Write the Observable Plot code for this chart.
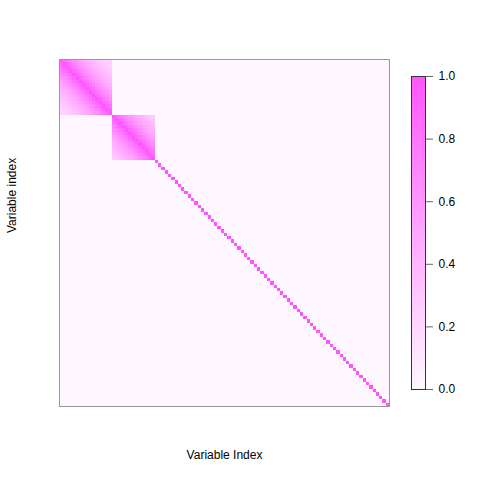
<!DOCTYPE html>
<html>
<head>
<meta charset="utf-8">
<script src="https://cdn.jsdelivr.net/npm/d3@7"></script>
<script src="https://cdn.jsdelivr.net/npm/@observablehq/plot@0.6"></script>
<style>
  html, body { margin: 0; padding: 0; background: #fff; }
  #wrap { position: relative; width: 480px; height: 480px; font-family: "Liberation Sans", Arial, sans-serif; }
  #wrap svg { position: absolute; top: 0; background: transparent; }
</style>
</head>
<body>
<div id="wrap"></div>
<script>
// Number of variables
const nVars = 100;
// Correlated blocks (start index, size) and their lag correlations
const blockStarts = [0, 16];
const blockSizes = [16, 13];
const block1Lag = [1.00, 0.90, 0.81, 0.73, 0.66, 0.59, 0.53, 0.48, 0.43, 0.39, 0.35, 0.31, 0.28, 0.25, 0.23, 0.21];
const block2Lag = [1.00, 0.90, 0.81, 0.73, 0.66, 0.59, 0.53, 0.48, 0.43, 0.39, 0.35, 0.31, 0.28];
const blockLags = [block1Lag, block2Lag];
// Colour bar ticks
const legendTicks = [0.0, 0.2, 0.4, 0.6, 0.8, 1.0];
const colorLow = "#fff7ff";
const colorHigh = "#ff55ff";

// Build the correlation matrix cells
const cells = [];
for (let i = 0; i < nVars; i++) {
  for (let j = 0; j < nVars; j++) {
    let v = i === j ? 1 : 0;
    blockStarts.forEach((s, b) => {
      const n = blockSizes[b];
      if (i >= s && i < s + n && j >= s && j < s + n) v = blockLags[b][Math.abs(i - j)];
    });
    cells.push({i, j, v});
  }
}
const idx = d3.range(nVars);
const colorScale = {type: "linear", domain: [0, 1], range: [colorLow, colorHigh], interpolate: "rgb"};

const main = Plot.plot({
  width: 480, height: 480,
  marginLeft: 59, marginRight: 91, marginTop: 59, marginBottom: 74,
  style: {fontFamily: "Liberation Sans, Arial, sans-serif", fontSize: "12px", background: "transparent"},
  x: {type: "band", domain: idx, padding: 0, round: false, axis: null},
  y: {type: "band", domain: idx, padding: 0, round: false, axis: null},
  color: colorScale,
  marks: [
    Plot.cell(cells, {x: "j", y: "i", fill: "v", inset: 0, shapeRendering: "crispEdges"}),
    Plot.frame({stroke: "#999", strokeWidth: 1}),
    Plot.text(["Variable Index"], {frameAnchor: "bottom", dy: 52, text: d => d, fontSize: 12, fill: "#000"}),
    Plot.text(["Variable index"], {frameAnchor: "left", dx: -47, rotate: -90, text: d => d, fontSize: 12, fill: "#000"})
  ]
});

const steps = d3.range(0, 1, 0.005).map(a => ({y1: a, y2: Math.min(1, a + 0.005), v: a + 0.0025}));
const bar = Plot.plot({
  width: 75, height: 480,
  marginLeft: 6, marginRight: 55, marginTop: 76, marginBottom: 91,
  style: {fontFamily: "Liberation Sans, Arial, sans-serif", fontSize: "12px", background: "transparent", overflow: "visible"},
  x: {domain: [0, 1], axis: null},
  y: {domain: [0, 1], axis: null},
  color: colorScale,
  marks: [
    Plot.rectY(steps, {x1: 0, x2: 1, y1: "y1", y2: "y2", fill: "v", inset: 0, shapeRendering: "crispEdges"}),
    Plot.frame({stroke: "#333", strokeWidth: 1}),
    Plot.axisY(legendTicks, {anchor: "right", tickSize: 7, tickPadding: 6, tickFormat: d3.format(".1f"), stroke: "#666", fill: "#000", fontSize: 12, label: null})
  ]
});

const wrap = document.getElementById("wrap");
main.style.left = "0px";
bar.style.left = "405px";
wrap.appendChild(main);
wrap.appendChild(bar);
</script>
</body>
</html>
